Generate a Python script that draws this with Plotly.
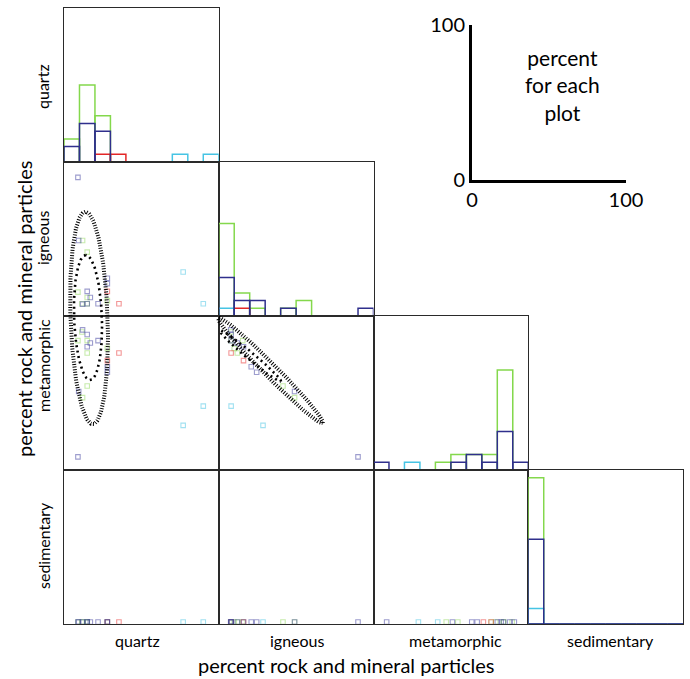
import numpy as np
import plotly.graph_objects as go

W, H = 690, 679

variables = ["quartz", "igneous", "metamorphic", "sedimentary"]

# ---- sample compositions (percent) ----
green_quartz = [12, 15, 9, 15, 11.6, 15, 28]
green_igneous = [49, 41.5, 15.5, 12, 8, 8, 10]
green_metamorphic = [47, 54.5, 84, 76, 89.6, 84, 79]
green_sedimentary = [1.3, 1.3, 1.3, 1.3, 1.3, 1.3, 1.3]

blue_quartz = [9, 9.5, 28, 28, 17, 15, 15, 22, 12]
blue_igneous = [90, 49, 24.5, 21, 12, 16, 8, 8, 7.7]
blue_metamorphic = [8.5, 51, 63.5, 67, 82.5, 80, 88, 84, 91]
blue_sedimentary = [1.3, 1.3, 1.3, 1.3, 1.3, 1.3, 1.3, 1.3, 1.3]

red_quartz = [35.5, 28]
red_igneous = [8, 16]
red_metamorphic = [76, 71]
red_sedimentary = [1.3, 1.3]

cyan_quartz = [90, 77]
cyan_igneous = [8, 28.6]
cyan_metamorphic = [41.5, 29]
cyan_sedimentary = [1.3, 1.3]

# ---- histogram heights (percent) per 10%-bin ----
bin_centers = [5, 15, 25, 35, 45, 55, 65, 75, 85, 95]

green_hist_quartz = [15, 50, 30, 0, 0, 0, 0, 0, 0, 0]
blue_hist_quartz = [10, 25, 20, 0, 0, 0, 0, 0, 0, 0]
red_hist_quartz = [0, 0, 5, 5, 0, 0, 0, 0, 0, 0]
cyan_hist_quartz = [0, 0, 0, 0, 0, 0, 0, 5, 0, 5]

green_hist_igneous = [60, 15, 5, 0, 5, 10, 0, 0, 0, 0]
blue_hist_igneous = [25, 10, 10, 0, 5, 0, 0, 0, 0, 5]
red_hist_igneous = [0, 5, 0, 0, 0, 0, 0, 0, 0, 0]
cyan_hist_igneous = [5, 0, 0, 0, 0, 0, 0, 0, 0, 0]

green_hist_metamorphic = [0, 0, 0, 0, 5, 10, 10, 10, 65, 0]
blue_hist_metamorphic = [5, 0, 0, 0, 0, 5, 10, 5, 25, 5]
red_hist_metamorphic = [0, 0, 0, 0, 0, 0, 0, 0, 0, 0]
cyan_hist_metamorphic = [0, 0, 5, 0, 0, 0, 0, 0, 0, 0]

green_hist_sedimentary = [95, 0, 0, 0, 0, 0, 0, 0, 0, 0]
blue_hist_sedimentary = [55, 0, 0, 0, 0, 0, 0, 0, 0, 0]
red_hist_sedimentary = [0, 0, 0, 0, 0, 0, 0, 0, 0, 0]
cyan_hist_sedimentary = [10, 0, 0, 0, 0, 0, 0, 0, 0, 0]

# ---- dotted ellipses in grid units (each panel = 100 units; origin bottom-left of grid) ----
# center_x, center_y, semi_major, semi_minor, angle_deg
ellipse_outer_quartz = [16.2, 198.7, 69.0, 12.0, 92]
ellipse_inner_quartz = [15.5, 199.0, 40.6, 9.0, 92]
ellipse_outer_diag = [133.5, 164.6, 48.0, 4.2, -45.4]
ellipse_inner_diag = [120.5, 174.0, 25.7, 2.3, -40]

samples = {
    "green": [green_quartz, green_igneous, green_metamorphic, green_sedimentary],
    "blue": [blue_quartz, blue_igneous, blue_metamorphic, blue_sedimentary],
    "red": [red_quartz, red_igneous, red_metamorphic, red_sedimentary],
    "cyan": [cyan_quartz, cyan_igneous, cyan_metamorphic, cyan_sedimentary],
}
hists = {
    "green": [green_hist_quartz, green_hist_igneous, green_hist_metamorphic, green_hist_sedimentary],
    "red": [red_hist_quartz, red_hist_igneous, red_hist_metamorphic, red_hist_sedimentary],
    "cyan": [cyan_hist_quartz, cyan_hist_igneous, cyan_hist_metamorphic, cyan_hist_sedimentary],
    "blue": [blue_hist_quartz, blue_hist_igneous, blue_hist_metamorphic, blue_hist_sedimentary],
}
line_colors = {"green": "#84d84c", "blue": "#2f2f8c", "red": "#e32626", "cyan": "#46c4e4"}
marker_colors = {"green": "#8fd85c", "blue": "#3b3b9e", "red": "#e83030", "cyan": "#46c4e4"}

FONT = "Lato"

# grid geometry in pixels
GX0, GX1 = 64, 683
GY0, GY1 = 8, 624
pw = (GX1 - GX0) / 4
ph = (GY1 - GY0) / 4

fig = go.Figure()
layout = {}
k = 0
axis_ids = {}
for r in range(4):
    for c in range(r + 1):
        k += 1
        sfx = "" if k == 1 else str(k)
        axis_ids[(r, c)] = ("x" + sfx, "y" + sfx)
        x0 = (GX0 + c * pw) / W
        x1 = (GX0 + (c + 1) * pw) / W
        ytop = GY0 + r * ph
        ybot = GY0 + (r + 1) * ph
        common = dict(range=[0, 100], showline=True, mirror=True, linecolor="#2a2a2a",
                      linewidth=1.4, showgrid=False, zeroline=False, ticks="",
                      showticklabels=False, fixedrange=True, automargin=False)
        layout["xaxis" + sfx] = dict(domain=[x0, x1], anchor="y" + sfx, **common)
        layout["yaxis" + sfx] = dict(domain=[1 - ybot / H, 1 - ytop / H], anchor="x" + sfx, **common)

# histograms on the diagonal
for g in ["green", "red", "cyan", "blue"]:
    for i in range(4):
        xa, ya = axis_ids[(i, i)]
        fig.add_trace(go.Bar(
            x=bin_centers, y=hists[g][i], width=10, xaxis=xa, yaxis=ya,
            marker=dict(color="rgba(0,0,0,0)", line=dict(color=line_colors[g], width=1.5)),
            showlegend=False, hoverinfo="skip"))

# scatter panels
for r in range(4):
    for c in range(r):
        xa, ya = axis_ids[(r, c)]
        for g in ["green", "cyan", "red", "blue"]:
            fig.add_trace(go.Scatter(
                x=samples[g][c], y=samples[g][r], mode="markers", xaxis=xa, yaxis=ya,
                cliponaxis=False,
                marker=dict(symbol="square-open", size=4.5, color=marker_colors[g],
                            line=dict(width=1.1), opacity=0.5),
                showlegend=False, hoverinfo="skip"))

# overlay axis for ellipses spanning the whole grid
k += 1
ov = str(k)
layout["xaxis" + ov] = dict(domain=[GX0 / W, GX1 / W], range=[0, 400], visible=False,
                            anchor="y" + ov, fixedrange=True, automargin=False)
layout["yaxis" + ov] = dict(domain=[1 - GY1 / H, 1 - GY0 / H], range=[0, 400], visible=False,
                            anchor="x" + ov, fixedrange=True, automargin=False)


def ellipse(p):
    cx, cy, a, b, ang = p
    t = np.linspace(0, 2 * np.pi, 240)
    th = np.deg2rad(ang)
    ex = a * np.cos(t)
    ey = b * np.sin(t)
    return cx + ex * np.cos(th) - ey * np.sin(th), cy + ex * np.sin(th) + ey * np.cos(th)


for p, w, d in [(ellipse_outer_quartz, 4, "1px,1.6px"), (ellipse_inner_quartz, 2.6, "2px,3.5px"),
                (ellipse_outer_diag, 4, "1px,1.6px"), (ellipse_inner_diag, 2.6, "2px,3.5px")]:
    ex, ey = ellipse(p)
    fig.add_trace(go.Scatter(x=ex, y=ey, mode="lines", xaxis="x" + ov, yaxis="y" + ov,
                             line=dict(color="black", width=w, dash=d),
                             showlegend=False, hoverinfo="skip"))

# inset key axis
k += 1
ins = str(k)
inset_ticks = [0, 100]
inset_common = dict(range=[0, 100], showline=True, linecolor="black", linewidth=3,
                    showgrid=False, zeroline=False, ticks="", tickvals=inset_ticks,
                    ticktext=[str(v) for v in inset_ticks],
                    tickfont=dict(size=20, family=FONT, color="black"), fixedrange=True,
                    automargin=False)
layout["xaxis" + ins] = dict(domain=[472 / W, 626 / W], anchor="y" + ins, **inset_common)
layout["yaxis" + ins] = dict(domain=[1 - 180 / H, 1 - 25 / H], anchor="x" + ins, **inset_common)
fig.add_trace(go.Scatter(x=[None], y=[None], xaxis="x" + ins, yaxis="y" + ins, showlegend=False))

annotations = [
    dict(text="percent<br>for each<br>plot", x=59, y=61, xref="x" + ins, yref="y" + ins,
         xanchor="center", yanchor="middle",
         showarrow=False, font=dict(size=21, family=FONT, color="black"), align="center"),
    dict(text="percent rock and mineral particles", x=346 / W, y=1 - 665 / H, xref="paper",
         yref="paper", xanchor="center", yanchor="middle", showarrow=False,
         font=dict(size=20, family=FONT, color="black")),
    dict(text="percent rock and mineral particles", x=24 / W, y=1 - 309 / H, xref="paper",
         yref="paper", xanchor="center", yanchor="middle", showarrow=False, textangle=-90,
         font=dict(size=20, family=FONT, color="black")),
]
row_label_y = [87, 238, 366, 546]
col_label_x = [137, 297, 455, 610]
for i, v in enumerate(variables):
    annotations.append(dict(text=v, x=43 / W, y=1 - row_label_y[i] / H, xref="paper", yref="paper",
                            xanchor="center", yanchor="middle", showarrow=False, textangle=-90,
                            font=dict(size=16, family=FONT, color="black")))
    annotations.append(dict(text=v, x=col_label_x[i] / W, y=1 - 640 / H, xref="paper",
                            yref="paper", xanchor="center", yanchor="middle", showarrow=False,
                            font=dict(size=16, family=FONT, color="black")))

fig.update_layout(
    template="none",
    width=W, height=H, margin=dict(l=0, r=0, t=0, b=0, pad=0, autoexpand=False),
    paper_bgcolor="white", plot_bgcolor="rgba(0,0,0,0)",
    barmode="overlay", showlegend=False, annotations=annotations,
    font=dict(family=FONT), **layout)

fig.write_html("out.html", config={"displayModeBar": False},
               post_script="document.body.style.margin='0';document.body.style.overflow='hidden';")
